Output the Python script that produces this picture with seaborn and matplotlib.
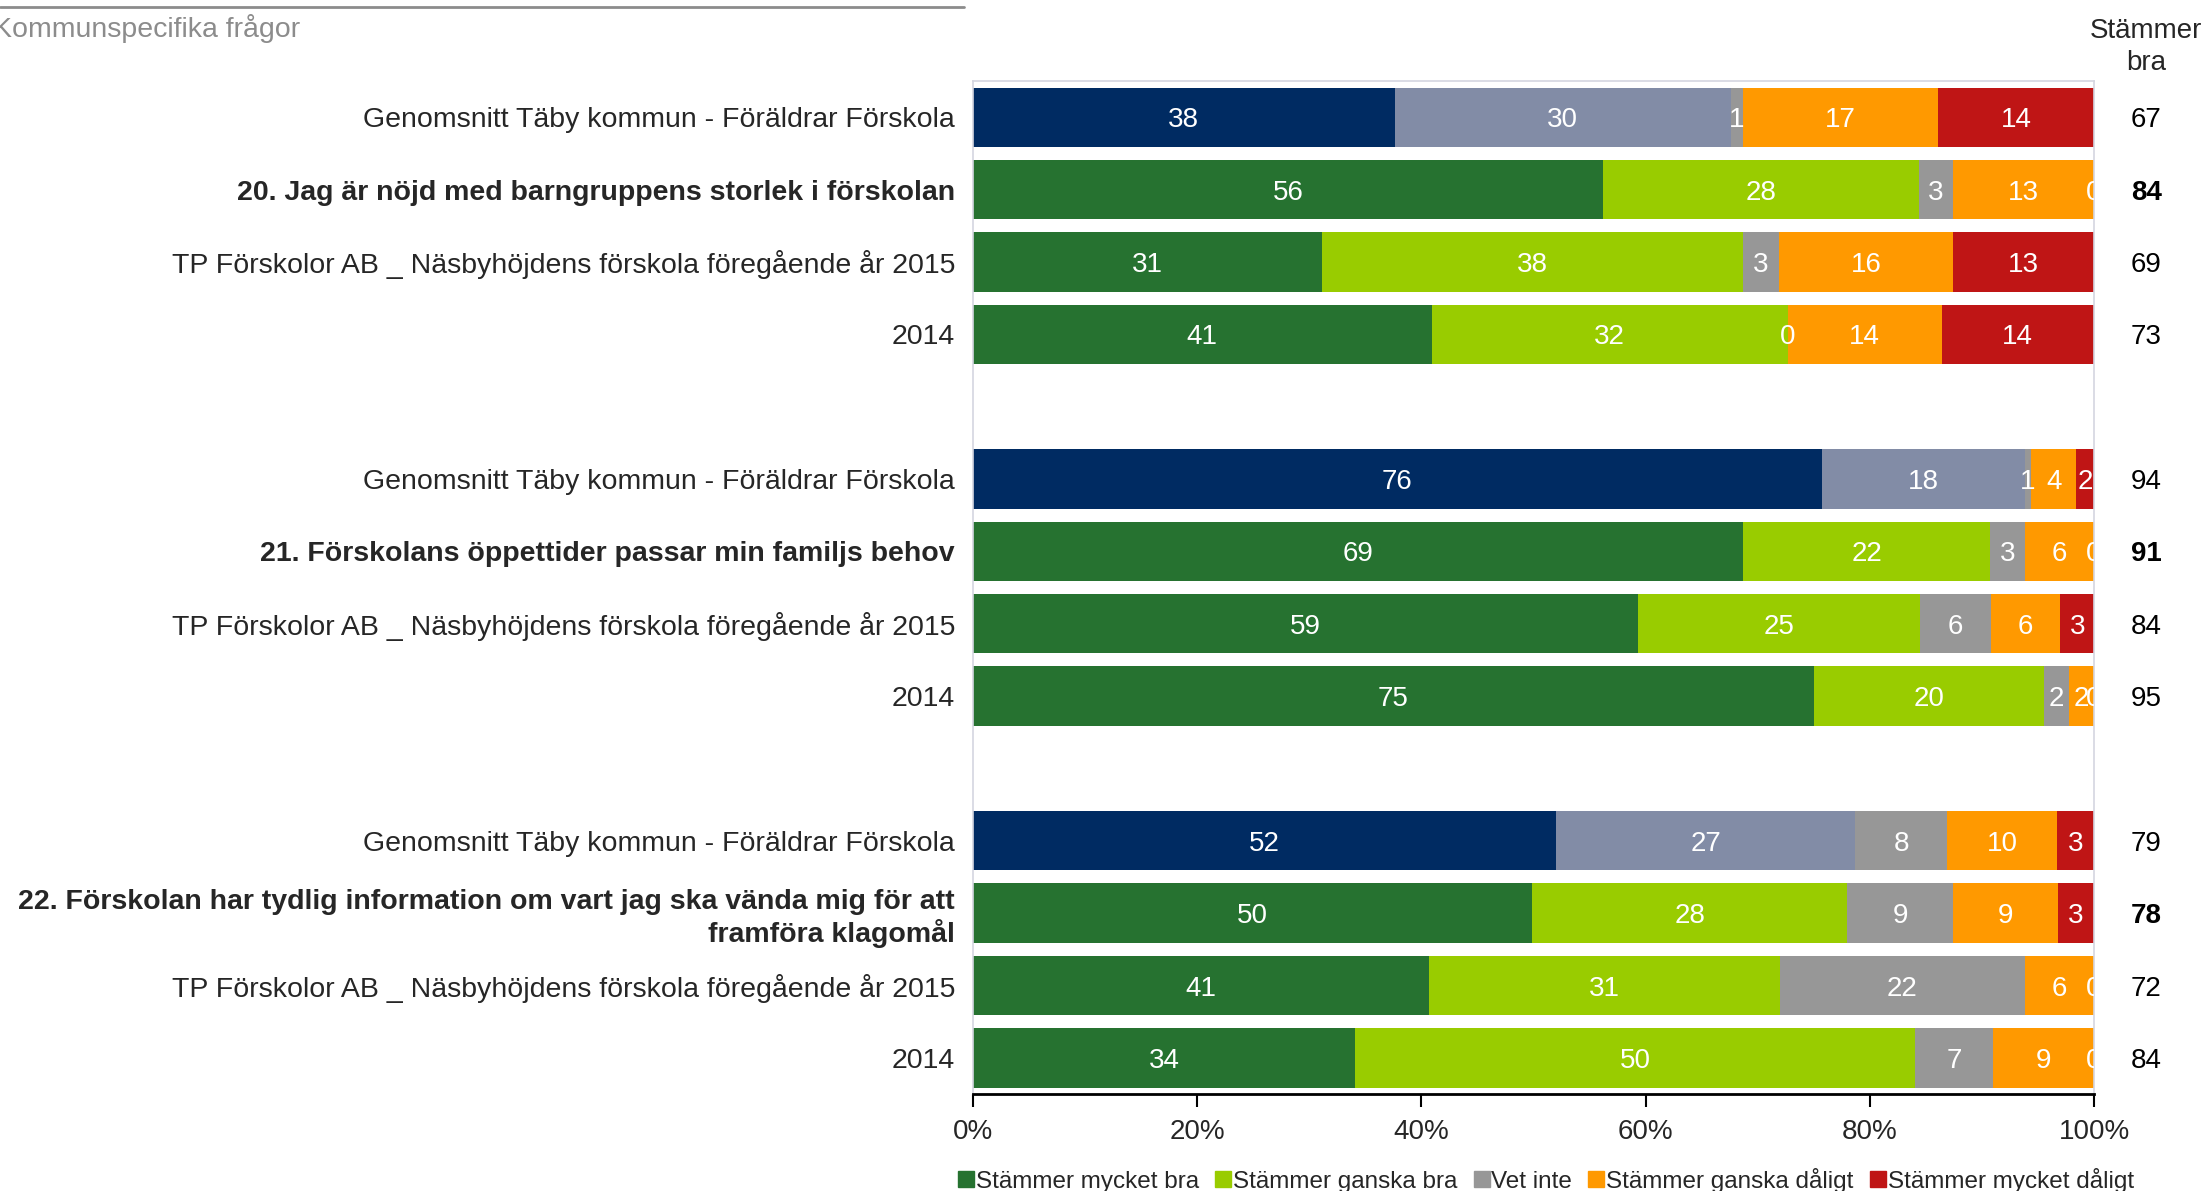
import pandas as pd
import seaborn as sns
import matplotlib.pyplot as plt
from matplotlib.lines import Line2D

# Row labels (top to bottom), blank rows separate the questions
row_labels = [
    "Genomsnitt Täby kommun - Föräldrar Förskola",
    "20. Jag är nöjd med barngruppens storlek i förskolan",
    "TP Förskolor AB _ Näsbyhöjdens förskola föregående år 2015",
    "2014",
    "",
    "Genomsnitt Täby kommun - Föräldrar Förskola",
    "21. Förskolans öppettider passar min familjs behov",
    "TP Förskolor AB _ Näsbyhöjdens förskola föregående år 2015",
    "2014",
    "",
    "Genomsnitt Täby kommun - Föräldrar Förskola",
    "22. Förskolan har tydlig information om vart jag ska vända mig för att\nframföra klagomål",
    "TP Förskolor AB _ Näsbyhöjdens förskola föregående år 2015",
    "2014",
]
row_kind = ["avg", "q", "prev", "prev", None,
            "avg", "q", "prev", "prev", None,
            "avg", "q", "prev", "prev"]

segments = ["Stämmer mycket bra", "Stämmer ganska bra", "Vet inte",
            "Stämmer ganska dåligt", "Stämmer mycket dåligt"]

# percentages per segment (None = blank row)
mycket_bra = [37.6, 56.2, 31.1, 40.9, None, 75.7, 68.7, 59.3, 75.0, None, 52.0, 49.9, 40.7, 34.1]
ganska_bra = [30.0, 28.2, 37.6, 31.8, None, 18.1, 22.0, 25.2, 20.5, None, 26.7, 28.1, 31.3, 49.9]
vet_inte = [1.1, 3.0, 3.2, 0.0, None, 0.6, 3.1, 6.3, 2.3, None, 8.2, 9.4, 21.8, 7.0]
ganska_daligt = [17.4, 12.6, 15.5, 13.7, None, 4.0, 6.2, 6.2, 2.2, None, 9.8, 9.4, 6.2, 9.0]
mycket_daligt = [13.9, 0.0, 12.6, 13.6, None, 1.6, 0.0, 3.0, 0.0, None, 3.3, 3.2, 0.0, 0.0]

stammer_bra = [67, 84, 69, 73, None, 94, 91, 84, 95, None, 79, 78, 72, 84]

colors_avg = ["#002B62", "#828CA6", "#979797", "#FF9900", "#BF1515"]
colors_std = ["#267230", "#99CC00", "#979797", "#FF9900", "#BF1515"]

series = [mycket_bra, ganska_bra, vet_inte, ganska_daligt, mycket_daligt]

row_ids = [f"r{i}" for i in range(len(row_labels))]

# long table with cumulative ends
records = []
for i, rid in enumerate(row_ids):
    if row_kind[i] is None:
        continue
    left = 0.0
    for s, vals in enumerate(series):
        v = vals[i]
        cols = colors_avg if row_kind[i] == "avg" else colors_std
        records.append(dict(row=rid, seg=s, value=v, left=left,
                            cum=left + v, color=cols[s]))
        left += v
df = pd.DataFrame(records)

sns.set_theme(style="white")
plt.rcParams['font.family'] = ['Liberation Sans', 'DejaVu Sans']

fig, ax = plt.subplots(figsize=(22.08, 11.91), dpi=100)
fig.subplots_adjust(left=0.4407, right=0.9484, top=0.932, bottom=0.0814)

# stacked bars: draw cumulative totals from the last segment back
for s in reversed(range(len(segments))):
    sub = df[df.seg == s]
    pal = dict(zip(sub.row, sub.color))
    sns.barplot(data=sub, x="cum", y="row", order=row_ids, hue="row",
                palette=pal, legend=False, orient="h", width=0.82,
                saturation=1, linewidth=0, ax=ax)

for _, r in df.iterrows():
    ax.text(r.left + r.value / 2, row_ids.index(r.row), f"{r.value:.0f}",
            ha="center", va="center_baseline", color="white", fontsize=20,
            clip_on=True)

ax.set_xlim(0, 100)
ax.set_ylim(len(row_ids) - 0.5, -0.5)
ax.set_xlabel("")
ax.set_ylabel("")
ax.set_xticks([0, 20, 40, 60, 80, 100])
ax.set_xticklabels(["0%", "20%", "40%", "60%", "80%", "100%"], fontsize=20)
ax.set_yticks(range(len(row_ids)))
ax.set_yticklabels(row_labels, fontsize=20.5)
for lab, kind in zip(ax.get_yticklabels(), row_kind):
    if kind == "q":
        lab.set_fontweight("bold")
    lab.set_multialignment("right")
ax.tick_params(axis="y", length=0, pad=13)
ax.tick_params(axis="x", bottom=True, length=9, width=1.5, color="black",
               direction="out", pad=9)

for side in ["left", "top", "right"]:
    ax.spines[side].set_color("#D4D6E0")
    ax.spines[side].set_linewidth(1.2)
ax.spines["bottom"].set_color("black")
ax.spines["bottom"].set_linewidth(2)

# right-hand "Stämmer bra" column
for i, v in enumerate(stammer_bra):
    if v is None:
        continue
    ax.text(1.0465, i, str(v), transform=ax.get_yaxis_transform(),
            ha="center", va="center_baseline", fontsize=20, color="black",
            fontweight="bold" if row_kind[i] == "q" else "normal")
fig.text(0.972, 0.9605, "Stämmer\nbra", ha="center", va="center",
         fontsize=20, linespacing=1.3)

# header
fig.text(-0.003, 0.976, "Kommunspecifika frågor", ha="left", va="center",
         fontsize=20.5, color="#8C8C8C")
fig.add_artist(Line2D([0, 0.4365], [0.9945, 0.9945], color="#8C8C8C",
                      linewidth=2, transform=fig.transFigure))

handles = [Line2D([], [], marker="s", linestyle="none", markersize=11,
                  markerfacecolor=c, markeredgecolor=c)
           for c in colors_std]
fig.legend(handles, segments, loc="center", bbox_to_anchor=(0.700, 0.009),
           ncol=5, frameon=False, fontsize=17.5, handletextpad=0.05,
           columnspacing=0.65, handlelength=0.7)

fig.savefig("out.png", dpi=100)
